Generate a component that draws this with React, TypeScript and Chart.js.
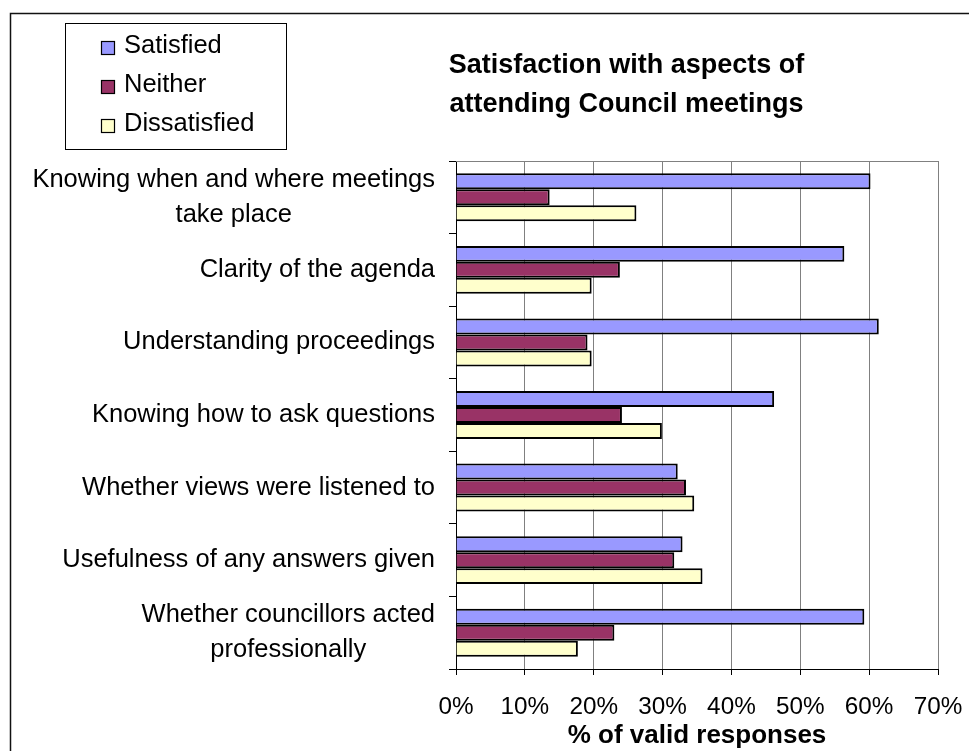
import React, { useEffect, useRef } from "react";
import { Chart, registerables } from "chart.js";

Chart.register(...registerables);

const categories: string[][] = [
  ["Knowing when and where meetings", "take place"],
  ["Clarity of the agenda"],
  ["Understanding proceedings"],
  ["Knowing how to ask questions"],
  ["Whether views were listened to"],
  ["Usefulness of any answers given"],
  ["Whether councillors acted", "professionally"],
];
const seriesNames = ["Satisfied", "Neither", "Dissatisfied"];
const satisfied = [60.2, 56.4, 61.4, 46.2, 32.2, 32.9, 59.3];
const neither = [13.6, 23.8, 19.1, 24.1, 33.4, 31.7, 23.0];
const dissatisfied = [26.2, 19.7, 19.7, 29.9, 34.6, 35.8, 17.7];
const seriesColors = ["#9999FF", "#993366", "#FFFFCC"];
const titleLines = ["Satisfaction with aspects of", "attending Council meetings"];
const axisTitle = "% of valid responses";

const FONT = "'Liberation Sans', Arial, sans-serif";

const decorPlugin = {
  id: "decor",
  beforeDraw(chart: any) {
    const ctx = chart.ctx;
    ctx.save();
    ctx.fillStyle = "#fff";
    ctx.fillRect(0, 0, chart.width, chart.height);
    // outer frame (top + left)
    ctx.strokeStyle = "#111";
    ctx.lineWidth = 1.5;
    ctx.beginPath();
    ctx.moveTo(chart.width, 13.5);
    ctx.lineTo(10.5, 13.5);
    ctx.lineTo(10.5, chart.height);
    ctx.stroke();
    // legend box
    ctx.lineWidth = 1;
    ctx.strokeStyle = "#000";
    ctx.strokeRect(65.5, 23.5, 221, 126);
    ctx.font = `25.5px ${FONT}`;
    ctx.textBaseline = "alphabetic";
    ctx.textAlign = "left";
    seriesNames.forEach((name, i) => {
      const base = 53 + i * 39;
      ctx.fillStyle = seriesColors[i];
      ctx.fillRect(101.5, base - 11.5, 13, 13);
      ctx.strokeStyle = "#000";
      ctx.lineWidth = 1.2;
      ctx.strokeRect(101.5, base - 11.5, 13, 13);
      ctx.fillStyle = "#000";
      ctx.fillText(name, 124, base);
    });
    // title
    ctx.font = `bold 27px ${FONT}`;
    ctx.textAlign = "center";
    ctx.fillText(titleLines[0], 626.5, 73);
    ctx.fillText(titleLines[1], 626.5, 112);
    ctx.restore();
  },
  beforeDatasetsDraw(chart: any) {
    const { ctx, chartArea } = chart;
    ctx.save();
    ctx.strokeStyle = "#808080";
    ctx.lineWidth = 1;
    ctx.beginPath();
    ctx.moveTo(chartArea.left, Math.round(chartArea.top) + 0.5);
    ctx.lineTo(chartArea.right, Math.round(chartArea.top) + 0.5);
    ctx.stroke();
    ctx.restore();
  },
  afterDraw(chart: any) {
    const ctx = chart.ctx;
    const yScale = chart.scales.y;
    ctx.save();
    ctx.font = `25.5px ${FONT}`;
    ctx.fillStyle = "#000";
    ctx.textAlign = "center";
    ctx.textBaseline = "alphabetic";
    const rightEdge = 435;
    categories.forEach((lines, i) => {
      const cy = yScale.getPixelForTick(i);
      const maxW = Math.max(...lines.map((l) => ctx.measureText(l).width));
      const cx = rightEdge - maxW / 2;
      const n = lines.length;
      lines.forEach((l, j) => {
        ctx.fillText(l, cx, cy + 7 + (j - (n - 1) / 2) * 35);
      });
    });
    ctx.restore();
  },
};

export default function App() {
  const ref = useRef<HTMLCanvasElement>(null);
  useEffect(() => {
    const chart = new Chart(ref.current!, {
      type: "bar",
      data: {
        labels: categories.map((c) => c.join(" ")),
        datasets: [
          { label: seriesNames[0], data: satisfied, backgroundColor: seriesColors[0] },
          { label: seriesNames[1], data: neither, backgroundColor: seriesColors[1] },
          { label: seriesNames[2], data: dissatisfied, backgroundColor: seriesColors[2] },
        ].map((d) => ({
          ...d,
          borderColor: "#000",
          borderWidth: 2,
          categoryPercentage: 0.66,
          barPercentage: 1.0,
        })),
      },
      options: {
        indexAxis: "y",
        responsive: false,
        animation: false,
        layout: { padding: { top: 161, left: 0, right: 31, bottom: 0 } },
        plugins: {
          legend: { display: false },
          title: { display: false },
          tooltip: { enabled: false },
        },
        scales: {
          x: {
            min: 0,
            max: 70,
            afterFit: (s: any) => {
              s.height = 82;
              s.paddingLeft = 0;
              s.paddingRight = 0;
            },
            ticks: {
              stepSize: 10,
              padding: 18,
              color: "#000",
              font: { family: FONT, size: 24.3 },
              callback: (v: any) => v + "%",
              maxRotation: 0,
            },
            grid: { color: "#808080", tickColor: "#000", tickLength: 6, lineWidth: 1 },
            border: { color: "#000", width: 1 },
            title: {
              display: true,
              text: axisTitle,
              color: "#000",
              font: { family: FONT, size: 26, weight: "bold", lineHeight: 1.2 },
              padding: { top: 0, bottom: 0 },
            },
          },
          y: {
            afterFit: (s: any) => {
              s.width = 456;
              s.paddingTop = 0;
              s.paddingBottom = 0;
            },
            ticks: { display: false },
            grid: { drawOnChartArea: false, color: "#000", tickLength: 7, offset: true },
            border: { color: "#000", width: 1 },
          },
        },
      },
      plugins: [decorPlugin],
    } as any);
    return () => chart.destroy();
  }, []);
  return (
    <div style={{ position: "absolute", left: 0, top: 0, width: 969, height: 751, background: "#fff" }}>
      <canvas ref={ref} width={969} height={751} style={{ display: "block" }} />
    </div>
  );
}
